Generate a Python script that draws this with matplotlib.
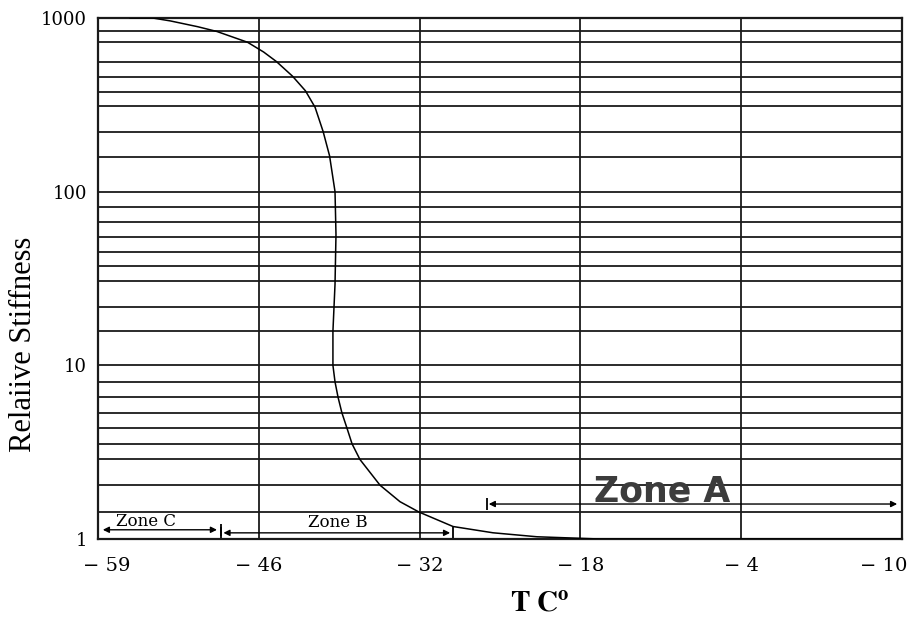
import matplotlib.pyplot as plt
import matplotlib.ticker as ticker
import matplotlib.transforms as mtransforms

plt.rcParams['mathtext.fontset'] = 'stix'

# x axis: equally spaced columns with the printed temperature labels
x_labels = ['\u2212 59', '\u2212 46', '\u2212 32', '\u2212 18', '\u2212 4', '\u2212 10']
y_major = [1, 10, 100, 1000]
y_major_labels = ['1', '10', '100', '1000']
# horizontal rulings of the (hand drawn) log paper
y_rulings = [1.43, 2.04, 2.87, 3.53, 4.33, 5.32, 6.54, 8.03,
             15.7, 21.8, 30.4, 37.1, 45.2, 55.1, 67.3, 82.0,
             159, 222, 310, 376, 456, 561, 725, 846]

# stiffness curve (column units, relative stiffness)
curve_x = [0.20, 0.34, 0.45, 0.62, 0.74, 0.93, 1.03, 1.11, 1.21, 1.29, 1.35,
           1.40, 1.44, 1.474, 1.48, 1.474, 1.461, 1.461, 1.474, 1.493, 1.517,
           1.549, 1.58, 1.629, 1.754, 1.878, 1.996, 2.208, 2.456, 2.73, 3.12, 4.99]
curve_y = [1000, 1000, 962, 891, 836, 725, 637, 561, 462, 381, 306,
           222, 161, 100, 56.6, 29.3, 15.7, 10, 8.03, 6.54, 5.32,
           4.33, 3.53, 2.87, 2.04, 1.64, 1.43, 1.18, 1.086, 1.03, 1.0, 1.0]

fig = plt.figure(figsize=(9.2, 6.19), dpi=100)
ax = fig.add_axes([98/920, 1-539/619, 804/920, 521/619])

ax.plot(curve_x, curve_y, color='k', lw=1.1, zorder=3)

ax.set_yscale('log')
ax.set_ylim(1, 1000)
ax.set_xlim(0, 5)

ax.set_xticks(range(len(x_labels)))
ax.set_xticklabels(x_labels, fontfamily='DejaVu Serif', fontsize=14)
ax.yaxis.set_major_locator(ticker.FixedLocator(y_major))
ax.yaxis.set_major_formatter(ticker.FixedFormatter(y_major_labels))
ax.yaxis.set_minor_locator(ticker.FixedLocator(y_rulings))
ax.yaxis.set_minor_formatter(ticker.NullFormatter())
for lab in ax.get_yticklabels():
    lab.set_fontfamily('DejaVu Serif')
    lab.set_fontsize(13)
ax.tick_params(which='both', length=0)
ax.tick_params(axis='x', pad=13)
ax.tick_params(axis='y', pad=8)

# first and last x labels sit a little off their rulings in the scan
xl = ax.get_xticklabels()
xl[0].set_transform(xl[0].get_transform() + mtransforms.ScaledTranslation(9/100, 0, fig.dpi_scale_trans))
xl[-1].set_transform(xl[-1].get_transform() + mtransforms.ScaledTranslation(-18/100, 0, fig.dpi_scale_trans))

ax.grid(which='both', axis='y', color='#1a1a1a', lw=1.3)
ax.grid(which='major', axis='x', color='#1a1a1a', lw=1.3)
for s in ax.spines.values():
    s.set_linewidth(1.6)
    s.set_color('#1a1a1a')

# zone arrows
def span(x0, x1, y, style, bars=()):
    ax.annotate('', xy=(x1, y), xytext=(x0, y),
                arrowprops=dict(arrowstyle=style, color='k', lw=1.0,
                                shrinkA=0, shrinkB=0, mutation_scale=9))
    if bars:
        ax.plot(list(bars), [y] * len(bars), ls='none', marker='|', ms=8, mew=1.3, color='k')

span(0.03, 0.74, 1.13, '<|-|>', bars=(0.765,))
span(0.78, 2.19, 1.085, '<|-|>', bars=(0.765, 2.21))
span(2.43, 4.97, 1.59, '<|-|>', bars=(2.42,))

ax.text(0.30, 1.26, 'Zone C', ha='center', va='center',
        fontfamily='DejaVu Serif', fontsize=12)
ax.text(1.49, 1.245, 'Zone B', ha='center', va='center',
        fontfamily='DejaVu Serif', fontsize=12)
ax.text(3.51, 1.88, 'Zone A', ha='center', va='center',
        fontfamily='DejaVu Sans', fontweight='bold', fontsize=25, color='#3c3c3c')

fig.text(24/920, 1-344/619, 'Relaiive Stiffness', rotation=90, ha='center', va='center',
         fontfamily='Liberation Serif', fontsize=22)
fig.text(540/920, 1-603/619, r'$\mathbf{T\ C^{o}}$', ha='center', va='center', fontsize=21)

plt.savefig('out.png', dpi=100)
